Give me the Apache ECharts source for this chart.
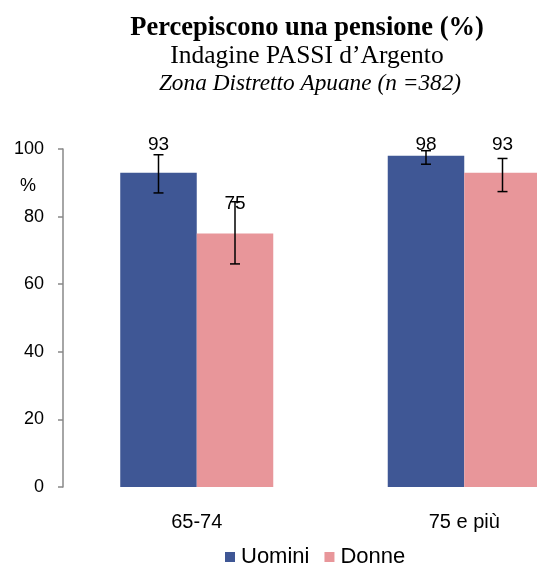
<!DOCTYPE html>
<html>
<head>
<meta charset="utf-8">
<script src="https://cdn.jsdelivr.net/npm/echarts@6/dist/echarts.min.js"></script>
<style>
  html, body { margin: 0; padding: 0; background: #fff; }
  #chart { width: 537px; height: 565px; }
</style>
</head>
<body>
<div id="chart"></div>
<script>
// data
const categories = ['65-74', '75 e più'];
const uomini = [93, 98];
const donne = [75, 93];
const uominiErrLow = [87, 95.5];
const uominiErrHigh = [98.3, 99.5];
const donneErrLow = [66, 87.4];
const donneErrHigh = [84.4, 97.2];
const yTicks = [0, 20, 40, 60, 80, 100];

const blue = '#3F5795';
const pink = '#E8969A';
const barFrac = 0.286;

const chart = echarts.init(document.getElementById('chart'));

// error bar + label drawn at one side of the category
function errorSeries(name, values, low, high, side) {
  return {
    name: name + ' err',
    type: 'custom',
    z: 5,
    data: values.map((v, i) => [i, v, low[i], high[i]]),
    renderItem: function (params, api) {
      const i = api.value(0);
      const bandW = api.size([1, 0])[0];
      const off = side * bandW * barFrac / 2;
      const top = api.coord([i, api.value(3)]);
      const bot = api.coord([i, api.value(2)]);
      const barTop = api.coord([i, api.value(1)]);
      const plotTop = api.coord([i, 100]);
      const x = top[0] + off;
      const cap = 5;
      const labelY = Math.max(barTop[1] - 30, plotTop[1] - 4);
      const style = { stroke: '#000', lineWidth: 1.5 };
      return {
        type: 'group',
        children: [
          { type: 'line', shape: { x1: x, y1: top[1], x2: x, y2: bot[1] }, style: style },
          { type: 'line', shape: { x1: x - cap, y1: top[1], x2: x + cap, y2: top[1] }, style: style },
          { type: 'line', shape: { x1: x - cap, y1: bot[1], x2: x + cap, y2: bot[1] }, style: style },
          {
            type: 'text',
            style: {
              x: x, y: labelY,
              text: String(api.value(1)),
              fill: '#000',
              font: '19px Arial, "Liberation Sans", sans-serif',
              textAlign: 'center',
              textVerticalAlign: 'middle'
            }
          }
        ]
      };
    }
  };
}

const option = {
  animation: false,
  backgroundColor: '#fff',
  grid: { left: 63, right: -61, top: 149, bottom: 78, containLabel: false, outerBoundsMode: 'none' },
  legend: {
    data: ['Uomini', 'Donne'],
    left: 220,
    top: 541,
    icon: 'rect',
    itemWidth: 10,
    itemHeight: 10,
    itemGap: 15,
    textStyle: { fontSize: 22, color: '#000', fontFamily: 'Arial, "Liberation Sans", sans-serif', padding: [0, 0, 0, 1] }
  },
  graphic: [
    {
      type: 'text', x: 307, y: 28,
      style: { text: 'Percepiscono una pensione (%)', font: 'bold 26.5px "Liberation Serif", "Times New Roman", serif', fill: '#000', textAlign: 'center', textVerticalAlign: 'middle' }
    },
    {
      type: 'text', x: 307, y: 56,
      style: { text: 'Indagine PASSI d\u2019Argento', font: '25.5px "Liberation Serif", "Times New Roman", serif', fill: '#000', textAlign: 'center', textVerticalAlign: 'middle' }
    },
    {
      type: 'text', x: 310, y: 84,
      style: { text: 'Zona Distretto Apuane (n =382)', font: 'italic 23.3px "Liberation Serif", "Times New Roman", serif', fill: '#000', textAlign: 'center', textVerticalAlign: 'middle' }
    },
    {
      type: 'text', x: 28, y: 186,
      style: { text: '%', font: '18px Arial, "Liberation Sans", sans-serif', fill: '#000', textAlign: 'center', textVerticalAlign: 'middle' }
    }
  ],
  xAxis: {
    type: 'category',
    data: categories,
    axisLine: { show: false },
    axisTick: { show: false },
    axisLabel: { margin: 25, fontSize: 20, color: '#000', fontFamily: 'Arial, "Liberation Sans", sans-serif' }
  },
  yAxis: {
    type: 'value',
    min: yTicks[0],
    max: yTicks[yTicks.length - 1],
    interval: 20,
    axisLine: { show: true, lineStyle: { color: '#888', width: 1.5 } },
    axisTick: { show: true, length: 5, lineStyle: { color: '#888', width: 1.5 } },
    splitLine: { show: false },
    axisLabel: { margin: 19, fontSize: 18, color: '#000', fontFamily: 'Arial, "Liberation Sans", sans-serif' }
  },
  series: [
    {
      name: 'Uomini', type: 'bar', data: uomini,
      barWidth: (barFrac * 100) + '%', barGap: '0%',
      itemStyle: { color: blue }
    },
    {
      name: 'Donne', type: 'bar', data: donne,
      barWidth: (barFrac * 100) + '%', barGap: '0%',
      itemStyle: { color: pink }
    },
    errorSeries('Uomini', uomini, uominiErrLow, uominiErrHigh, -1),
    errorSeries('Donne', donne, donneErrLow, donneErrHigh, 1)
  ]
};

chart.setOption(option);
</script>
</body>
</html>
